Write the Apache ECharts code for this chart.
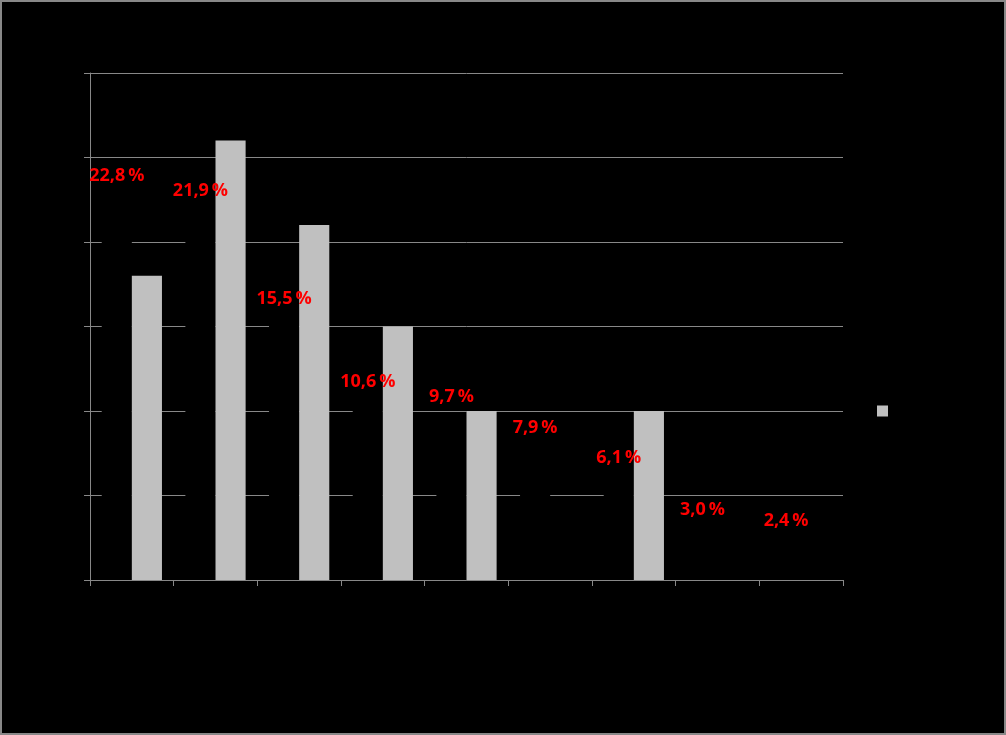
<!DOCTYPE html>
<html>
<head>
<meta charset="utf-8">
<style>
html,body{margin:0;padding:0;background:#000;}
#chart{width:1006px;height:735px;}
</style>
<script src="https://cdn.jsdelivr.net/npm/echarts@6/dist/echarts.min.js"></script>
</head>
<body>
<div id="chart"></div>
<script>
var categories = ["1", "2", "3", "4", "5", "6", "7", "8", "9"];
var shareValues = [22.8, 21.9, 15.5, 10.6, 9.7, 7.9, 6.1, 3.0, 2.4];
var greyValues = [18, 26, 21, 15, 10, 0, 10, 0, 0];
var shareName = "Anteil";
var greyName = "Vergleich";

var chart = echarts.init(document.getElementById('chart'));
chart.setOption({
  backgroundColor: '#000',
  animation: false,
  grid: {left: 90, right: 163, top: 73, bottom: 155},
  legend: {
    data: [greyName],
    orient: 'vertical',
    left: 872, top: 400,
    itemWidth: 11, itemHeight: 11,
    icon: 'rect',
    textStyle: {color: '#000', fontSize: 12}
  },
  xAxis: {
    type: 'category',
    data: categories,
    boundaryGap: true,
    axisLine: {show: true, lineStyle: {color: '#888', width: 1}},
    axisTick: {show: true, length: 6, alignWithLabel: false, lineStyle: {color: '#888'}},
    axisLabel: {show: false}
  },
  yAxis: {
    type: 'value',
    min: 0, max: 30, interval: 5,
    axisLine: {show: true, lineStyle: {color: '#888', width: 1}},
    axisTick: {show: true, length: 6, lineStyle: {color: '#888'}},
    axisLabel: {show: false},
    splitLine: {show: true, lineStyle: {color: '#888', width: 1}}
  },
  series: [
    {
      name: shareName,
      type: 'bar',
      data: shareValues,
      barGap: '0%',
      barCategoryGap: '28%',
      itemStyle: {color: '#000'},
      label: {
        show: true,
        position: 'top',
        distance: 10,
        color: '#ff0000',
        fontWeight: 'bold',
        fontSize: 18,
        fontFamily: 'Open Sans',
        formatter: function (p) { return p.value.toFixed(1).replace('.', ',') + '\u2009%'; }
      }
    },
    {
      name: greyName,
      type: 'bar',
      data: greyValues,
      barGap: '0%',
      barCategoryGap: '28%',
      itemStyle: {color: '#c0c0c0'}
    }
  ],
  graphic: [{
    type: 'rect',
    shape: {x: 1, y: 1, width: 1004, height: 733},
    style: {fill: 'none', stroke: '#888', lineWidth: 2},
    z: 100
  }]
});
</script>
</body>
</html>
